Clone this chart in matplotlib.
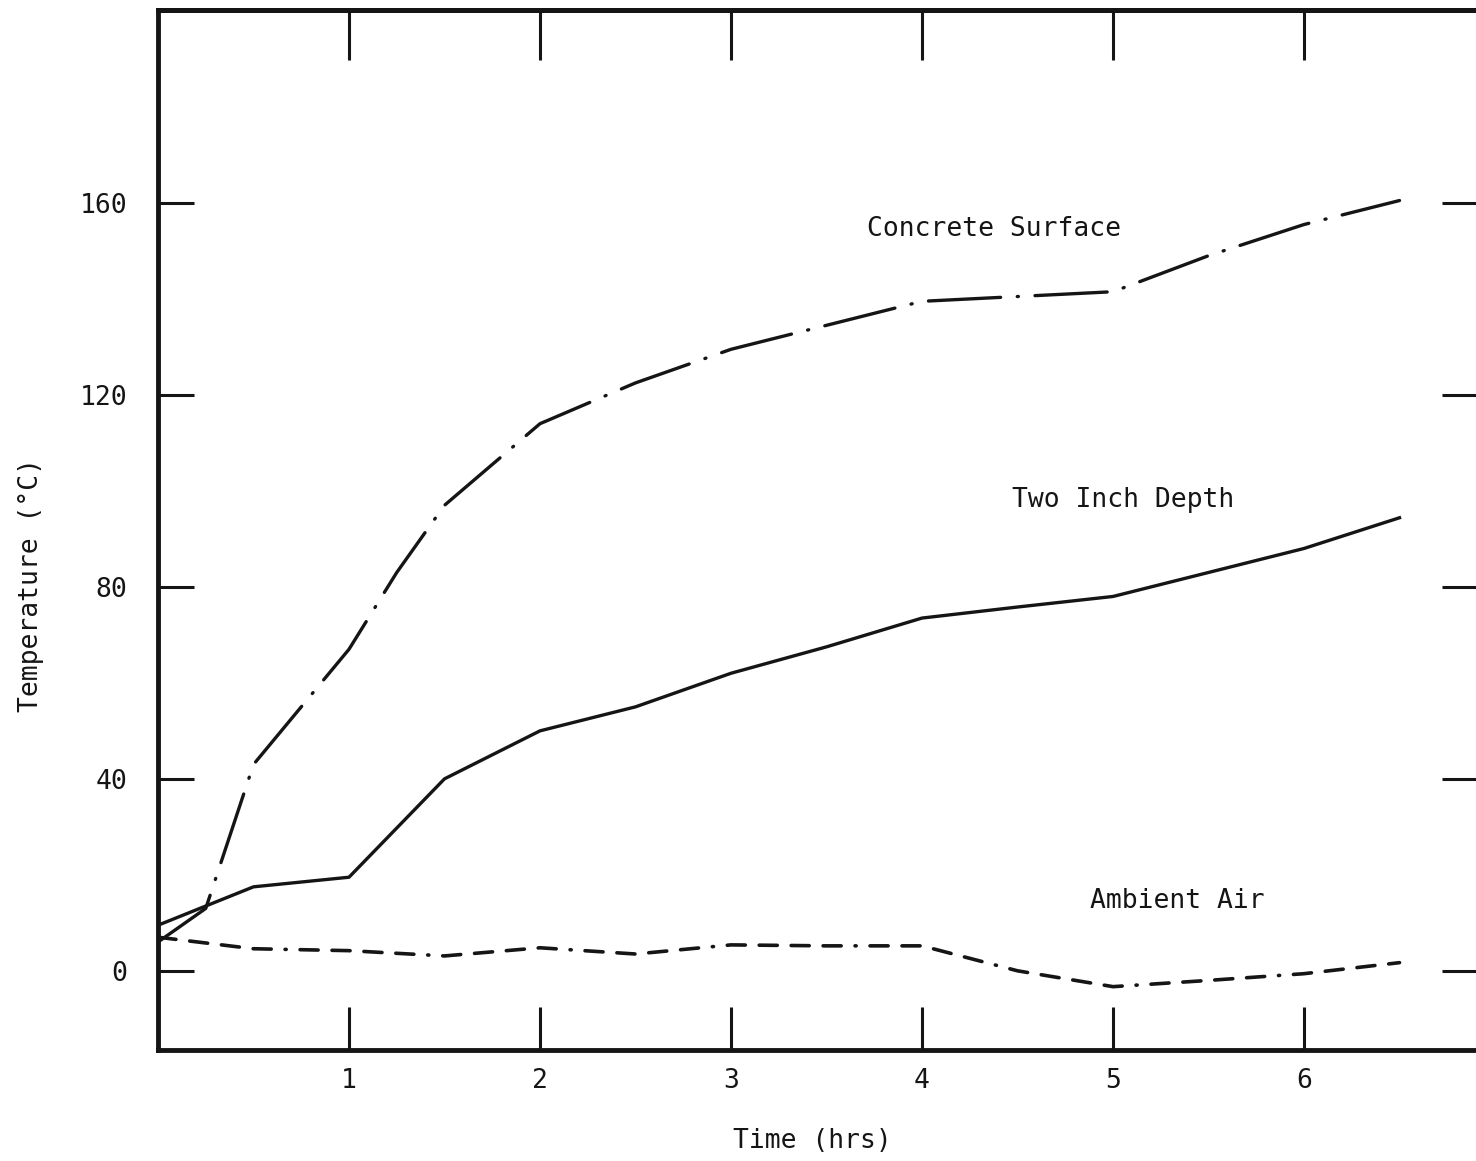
import matplotlib.pyplot as plt
import numpy as np

plt.rcParams['font.family'] = ['DejaVu Sans Mono', 'DejaVu Sans']
plt.rcParams['lines.scale_dashes'] = False

# Datos (tiempo en horas, temperatura en C)
t_superficie = [0, 0.25, 0.5, 1.0, 1.25, 1.5, 2.0, 2.5, 3.0, 3.5, 4.0, 4.5, 5.0, 5.5, 6.0, 6.5]
superficie = [6, 13, 43, 67, 83, 97, 114, 122.5, 129.5, 134.5, 139.5, 140.5, 141.5, 149, 155.5, 160.5]

t_profundidad = [0, 0.5, 1.0, 1.5, 2.0, 2.5, 3.0, 3.5, 4.0, 4.5, 5.0, 5.5, 6.0, 6.5]
profundidad = [9.5, 17.5, 19.5, 40, 50, 55, 62, 67.5, 73.5, 75.8, 78, 83, 88, 94.4]

t_ambiente = [0, 0.5, 1.0, 1.5, 2.0, 2.5, 3.0, 3.5, 4.0, 4.5, 5.0, 5.5, 6.0, 6.5]
ambiente = [7, 4.6, 4.2, 3.1, 4.8, 3.5, 5.4, 5.2, 5.2, 0, -3.3, -2.0, -0.6, 1.7]

x_ticks = [1, 2, 3, 4, 5, 6]
y_ticks = [0, 40, 80, 120, 160]

etiquetas = ['Concrete Surface', 'Two Inch Depth', 'Ambient Air']
pos_etiquetas = [(3.71, 154.5), (4.47, 98), (4.88, 14.5)]

fig = plt.figure(figsize=(14.76, 11.61), dpi=100)
ax = fig.add_axes([158 / 1476, 111 / 1161, 1320 / 1476, 1040 / 1161])

negro = '#151515'
ax.plot(t_superficie, superficie, color=negro, lw=2.4,
        dashes=(52, 12, 0.8, 12), dash_capstyle='round')
ax.plot(t_profundidad, profundidad, color=negro, lw=2.4)
ax.plot(t_ambiente, ambiente, color=negro, lw=2.6,
        dashes=(13, 10, 13, 10, 13, 10, 13, 10, 0.8, 10), dash_capstyle='round')

for texto, (xt, yt) in zip(etiquetas, pos_etiquetas):
    ax.text(xt, yt, texto, fontsize=19, va='center', ha='left', color=negro)

ax.set_xlim(0, 1320 / 191)
ax.set_ylim(-16.5, 200.2)

ax.set_xticks(x_ticks)
ax.set_yticks(y_ticks)
ax.tick_params(axis='x', direction='in', length=31, width=2.2, pad=13,
               labelsize=19, colors=negro)
ax.tick_params(axis='y', direction='in', length=26, width=2.2, pad=22,
               labelsize=19, right=True, colors=negro)

sec = ax.secondary_xaxis('top')
sec.set_xticks(x_ticks)
sec.set_xticklabels([])
sec.tick_params(direction='in', length=36, width=2.2, colors=negro)
sec.spines['top'].set_linewidth(3.5)

for s in ax.spines.values():
    s.set_linewidth(3.5)
    s.set_color(negro)

ax.set_xlabel('Time (hrs)', fontsize=19, color=negro)
ax.xaxis.set_label_coords(0.496, -0.075)
ax.set_ylabel('Temperature (°C)', fontsize=19, color=negro)
ax.yaxis.set_label_coords(-0.086, 0.447)

plt.savefig('out.png', dpi=100, facecolor='white')
